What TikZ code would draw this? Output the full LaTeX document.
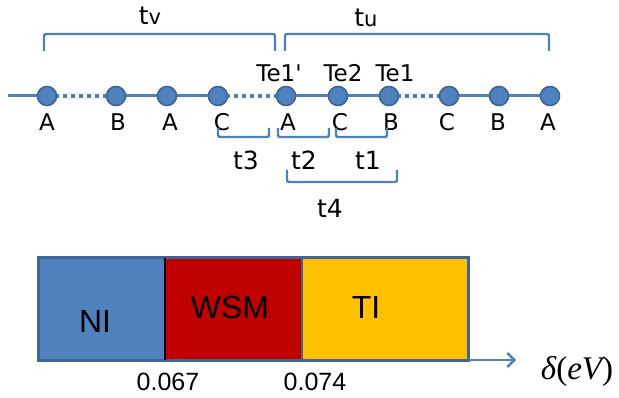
\documentclass[tikz,border=0pt]{standalone}
\usepackage{fontspec}
\setmainfont{DejaVu Sans}
\newfontfamily\arialf{Liberation Sans}
\newfontfamily\timesf{Liberation Serif}
\usetikzlibrary{arrows.meta}
\definecolor{cblue}{HTML}{4F81BD}
\definecolor{cdark}{HTML}{3F6496}
\definecolor{cred}{HTML}{C00000}
\definecolor{cyel}{HTML}{FFC000}
\tikzset{
  atom/.style={circle,fill=cblue,draw=cdark,line width=1.6pt,minimum size=19pt,inner sep=0pt},
  bond/.style={cblue,line width=3pt},
  dbond/.style={cblue,line width=3.5pt,dash pattern=on 4pt off 4pt},
  brk/.style={cblue,line width=2.4pt,rounded corners=2pt},
  lab/.style={inner sep=0pt,font=\fontsize{23}{25}\selectfont},
  tlab/.style={inner sep=0pt,font=\fontsize{25}{27}\selectfont},
  phase/.style={inner sep=0pt,font=\arialf\fontsize{32}{34}\selectfont},
  num/.style={inner sep=0pt,font=\arialf\fontsize{25}{27}\selectfont},
}
\begin{document}
\begin{tikzpicture}[x=1pt,y=-1pt]
\useasboundingbox (0,0) rectangle (619,398);
% chain
\coordinate (l0) at (8,96);
\foreach \i/\x in {1/47,2/116,3/167,4/218,5/286,6/338,7/389,8/449,9/499,10/550}
  \coordinate (p\i) at (\x,96);
\draw[bond] (l0) -- (p1);
\draw[dbond] (p1) -- (p2);
\draw[bond] (p2) -- (p3) -- (p4);
\draw[dbond] (p4) -- (p5);
\draw[bond] (p5) -- (p6) -- (p7);
\draw[dbond] (p7) -- (p8);
\draw[bond] (p8) -- (p9) -- (p10);
\foreach \i in {1,...,10} \node[atom] (n\i) at (p\i) {};
% labels below
\node[lab] (a1) at (47,122) {A};
\node[lab] (a2) at (118,122) {B};
\node[lab] (a3) at (170,122) {A};
\node[lab] (a4) at (222,122) {C};
\node[lab] (a5) at (288,122) {A};
\node[lab] (a6) at (340,122) {C};
\node[lab] (a7) at (391,122) {B};
\node[lab] (a8) at (447,122) {C};
\node[lab] (a9) at (498,122) {B};
\node[lab] (a10) at (548,122) {A};
% labels above
\node[lab] (te1p) at (279,73) {Te1\textquotesingle};
\node[lab] (te2) at (343,73) {Te2};
\node[lab] (te1) at (395,73) {Te1};
% top brackets
\draw[brk] (44,51) -- (44,34) -- (275,34) -- (275,51);
\draw[brk] (285,51) -- (285,34) -- (549,34) -- (549,51);
\node[tlab] (tv) at (150,16) {t{\fontsize{21}{22}\selectfont v}};
\node[tlab] (tu) at (366,18) {t{\fontsize{21}{22}\selectfont u}};
% bottom brackets
\draw[brk] (218,128) -- (218,137) -- (269,137) -- (269,128);
\draw[brk] (278,128) -- (278,137) -- (329,137) -- (329,128);
\draw[brk] (336,128) -- (336,137) -- (387,137) -- (387,128);
\draw[brk] (287,170) -- (287,182) -- (397,182) -- (397,170);
\node[tlab] (t3) at (246,160) {t3};
\node[tlab] (t2) at (304,160) {t2};
\node[tlab] (t1) at (368,160) {t1};
\node[tlab] (t4) at (330,208) {t4};
% phase bar
\fill[cblue] (38,258) rectangle (165,360);
\fill[cred] (165,258) rectangle (302,360);
\fill[cyel] (302,258) rectangle (468,360);
\draw[cdark,line width=3pt] (38,258) rectangle (468,360);
\draw[cdark,line width=2.4pt] (302,258) -- (302,360);
\draw[black,line width=2.4pt] (165,258) -- (165,360);
\coordinate (ax0) at (469,360);
\coordinate (ax1) at (516,360);
\draw[cblue,line width=2.4pt,-{Straight Barb[length=7pt,width=14pt]}] (ax0) -- (ax1);
\node[phase] (ni) at (95,321) {NI};
\node[phase] (wsm) at (230,307) {WSM};
\node[phase] (ti) at (366,307) {TI};
\node[num] (v1) at (168,382) {0.067};
\node[num] (v2) at (315,382) {0.074};
\node[inner sep=0pt,font=\timesf\fontsize{33}{35}\selectfont] (dl) at (577,371) {\itshape δ\upshape(\itshape eV\upshape)};
\end{tikzpicture}
\end{document}
